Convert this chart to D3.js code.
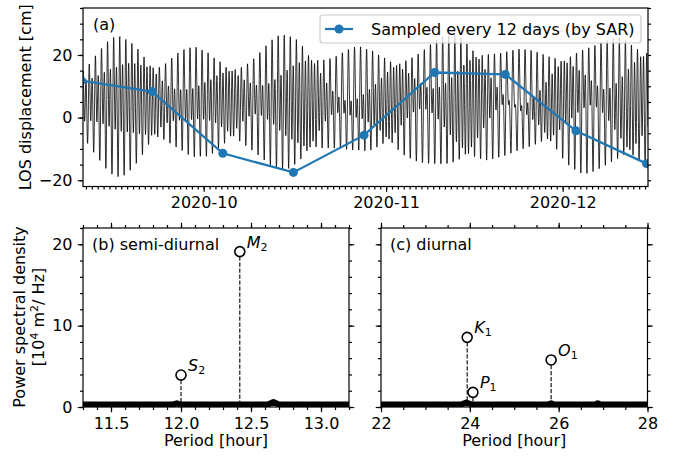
<!DOCTYPE html>
<html>
<head>
<meta charset="utf-8">
<script src="https://cdn.jsdelivr.net/npm/d3@7"></script>
<style>
  body { margin: 0; background: #fff; }
  svg { display: block; font-family: "DejaVu Sans", sans-serif; }
</style>
</head>
<body>
<svg id="chart" width="681" height="460"></svg>
<script>
'use strict';

// SAR samples, one every 12 days (UTC acquisition time)
const sarDates = ['2020-09-10T06', '2020-09-22T06', '2020-10-04T06', '2020-10-16T06', '2020-10-28T06',
  '2020-11-09T06', '2020-11-21T06', '2020-12-03T06', '2020-12-15T06'];
const sarValues = [11.8, 8.3, -11.4, -17.5, -5.6, 14.4, 13.8, -4.2, -14.7];

// tidal constituents used for the continuous LOS curve (cm, hours, degrees at 2020-09-10 00:00 UTC)
const tideNames = ['M2', 'S2', 'N2', 'K1', 'O1', 'P1'];
const tidePeriods = [12.4206, 12.0, 12.6583, 23.9345, 25.8193, 24.0659];
const tideAmps = [11.2, 2.5, 2.6, 6.0, 4.6, 1.8];
const tidePhases = [0, 190.1, 103.8, 50, 199.6, 251.1];
const tideOffset = 4.8;

const monthTicks = ['2020-10-01', '2020-11-01', '2020-12-01'];

// spectral peaks [10^4 m^2/Hz]
const semiNames = ['S', 'M'];
const semiPeriods = [12.00, 12.42];
const semiPsd = [3.93, 19.1];
const diurNames = ['K', 'P', 'O'];
const diurPeriods = [23.94, 24.07, 25.83];
const diurPsd = [8.56, 1.8, 5.78];

// low level part of each spectrum
const semiFloorPeriods = [11.3, 11.94, 11.97, 12.0, 12.62, 12.66, 12.70, 13.2];
const semiFloorPsd = [0.3, 0.3, 0.45, 0.3, 0.3, 0.6, 0.3, 0.3];
const diurFloorPeriods = [22, 23.8, 23.92, 24.05, 25.75, 25.83, 25.9, 26.82, 26.88, 26.94, 28];
const diurFloorPsd = [0.3, 0.3, 0.55, 0.3, 0.3, 0.45, 0.3, 0.3, 0.45, 0.3, 0.3];

const blue = '#1f77b4';
const fontSize = 16;

const svg = d3.select('#chart');

const styleAxis = (g) => {
  g.attr('font-size', fontSize).attr('font-family', '"DejaVu Sans", sans-serif');
  g.select('.domain').remove();
  g.selectAll('.tick line').attr('stroke', '#000').attr('stroke-width', 1.2);
  g.selectAll('.tick text').attr('fill', '#000');
};

const addClip = (id, x0, y0, x1, y1) => {
  svg.append('clipPath').attr('id', id)
    .append('rect').attr('x', x0).attr('y', y0).attr('width', x1 - x0).attr('height', y1 - y0);
};

const frame = (x0, y0, x1, y1) => {
  svg.append('rect')
    .attr('x', x0).attr('y', y0).attr('width', x1 - x0).attr('height', y1 - y0)
    .attr('fill', 'none').attr('stroke', '#000').attr('stroke-width', 1.2);
};

// ---------- (a) time series ----------
const A = { left: 83, right: 648, top: 8, bottom: 186.5 };
const x = d3.scaleUtc([new Date(Date.UTC(2020, 8, 10, 12)), new Date(Date.UTC(2020, 11, 15, 12))], [A.left, A.right]);
const y = d3.scaleLinear([-22, 35], [A.bottom, A.top]);

const tideStart = Date.UTC(2020, 8, 10);
const tide = d3.range(0, 97 * 24 + 1).map((h) => ({
  date: new Date(tideStart + h * 3600e3),
  value: tideOffset + d3.sum(tidePeriods, (p, i) => tideAmps[i] * Math.cos((360 * h / p + tidePhases[i]) * Math.PI / 180)),
}));

const sar = sarDates.map((d, i) => ({ date: new Date(d + ':00:00Z'), value: sarValues[i] }));

addClip('clipA', A.left, A.top, A.right, A.bottom);

svg.append('path')
  .datum(tide)
  .attr('clip-path', 'url(#clipA)')
  .attr('fill', 'none')
  .attr('stroke', '#000')
  .attr('stroke-width', 0.8)
  .attr('d', d3.line((d) => x(d.date), (d) => y(d.value)));

const gSar = svg.append('g').attr('clip-path', 'url(#clipA)');
gSar.append('path')
  .datum(sar)
  .attr('fill', 'none')
  .attr('stroke', blue)
  .attr('stroke-width', 2.25)
  .attr('d', d3.line((d) => x(d.date), (d) => y(d.value)));
gSar.selectAll('circle')
  .data(sar)
  .join('circle')
  .attr('cx', (d) => x(d.date))
  .attr('cy', (d) => y(d.value))
  .attr('r', 4.5)
  .attr('fill', blue);

svg.append('g')
  .attr('transform', `translate(0,${A.bottom})`)
  .call(d3.axisBottom(x).tickValues(d3.utcDay.range(...x.domain())).tickSize(3).tickFormat(''))
  .call(styleAxis);
svg.append('g')
  .attr('transform', `translate(0,${A.bottom})`)
  .call(d3.axisBottom(x).tickValues(monthTicks.map((d) => new Date(d + 'T00:00:00Z')))
    .tickSize(5.25).tickPadding(5.25).tickFormat(d3.utcFormat('%Y-%m')))
  .call(styleAxis);

svg.append('g')
  .attr('transform', `translate(${A.left},0)`)
  .call(d3.axisLeft(y).tickValues(d3.range(-20, 36, 5)).tickSize(3).tickFormat(''))
  .call(styleAxis);
svg.append('g')
  .attr('transform', `translate(${A.left},0)`)
  .call(d3.axisLeft(y).tickValues([-20, 0, 20]).tickSize(5.25).tickPadding(5.25))
  .call(styleAxis);
svg.append('g')
  .attr('transform', `translate(${A.right},0)`)
  .call(d3.axisRight(y).tickValues(d3.range(-20, 36, 5)).tickSize(3).tickFormat(''))
  .call(styleAxis);

frame(A.left, A.top, A.right, A.bottom);

svg.append('text')
  .attr('x', 93).attr('y', 30)
  .attr('font-size', fontSize)
  .text('(a)');

svg.append('text')
  .attr('transform', `translate(31,${(A.top + A.bottom) / 2}) rotate(-90)`)
  .attr('text-anchor', 'middle')
  .attr('font-size', fontSize)
  .text('LOS displacement [cm]');

// legend
const legend = svg.append('g');
legend.append('rect')
  .attr('x', 320).attr('y', 15).attr('width', 321).attr('height', 28).attr('rx', 3)
  .attr('fill', '#fff').attr('fill-opacity', 0.8)
  .attr('stroke', '#cccccc').attr('stroke-width', 1.2);
legend.append('line')
  .attr('x1', 325).attr('x2', 353).attr('y1', 29).attr('y2', 29)
  .attr('stroke', blue).attr('stroke-width', 2.25);
legend.append('circle').attr('cx', 339).attr('cy', 29).attr('r', 4.5).attr('fill', blue);
legend.append('text')
  .attr('x', 371).attr('y', 35)
  .attr('font-size', fontSize)
  .text('Sampled every 12 days (by SAR)');

// ---------- (b) and (c) spectra ----------
const psdY = d3.scaleLinear([0, 22], [407, 228]);

const drawSpectrum = (id, left, right, domain, major, minor, names, periods, psd, floorP, floorV, label, showY) => {
  const sx = d3.scaleLinear(domain, [left, right]);
  addClip(id, left, psdY.range()[1], right, psdY.range()[0]);

  svg.append('path')
    .datum(floorP.map((p, i) => [p, floorV[i]]))
    .attr('clip-path', `url(#${id})`)
    .attr('fill', 'none')
    .attr('stroke', '#000')
    .attr('stroke-width', 6)
    .attr('stroke-linejoin', 'round')
    .attr('d', d3.line((d) => sx(d[0]), (d) => psdY(d[1])));

  const peaks = svg.append('g').selectAll('g')
    .data(periods.map((p, i) => ({ name: names[i], period: p, psd: psd[i] })))
    .join('g');
  peaks.append('line')
    .attr('x1', (d) => sx(d.period)).attr('x2', (d) => sx(d.period))
    .attr('y1', (d) => psdY(d.psd) + 5).attr('y2', psdY(0))
    .attr('stroke', '#000').attr('stroke-width', 1.1)
    .attr('stroke-dasharray', '4.2,1.8');
  peaks.append('circle')
    .attr('cx', (d) => sx(d.period)).attr('cy', (d) => psdY(d.psd))
    .attr('r', 5).attr('fill', 'none')
    .attr('stroke', '#000').attr('stroke-width', 1.6);
  const lbl = peaks.append('text')
    .attr('x', (d) => sx(d.period) + 7)
    .attr('y', (d) => psdY(d.psd) - 4)
    .attr('font-size', fontSize);
  lbl.append('tspan').attr('font-style', 'italic').text((d) => d.name);
  lbl.append('tspan').attr('font-size', 11).attr('dy', 3).text((d) => (d.name === 'S' || d.name === 'M' ? '2' : '1'));

  const b = psdY.range()[0];
  const t = psdY.range()[1];
  svg.append('g').attr('transform', `translate(0,${b})`)
    .call(d3.axisBottom(sx).tickValues(minor).tickSize(3).tickFormat(''))
    .call(styleAxis);
  svg.append('g').attr('transform', `translate(0,${b})`)
    .call(d3.axisBottom(sx).tickValues(major).tickSize(5.25).tickPadding(5.25)
      .tickFormat(domain[1] < 20 ? d3.format('.1f') : d3.format('d')))
    .call(styleAxis);
  svg.append('g').attr('transform', `translate(0,${t})`)
    .call(d3.axisTop(sx).tickValues(minor).tickSize(3).tickFormat(''))
    .call(styleAxis);
  svg.append('g').attr('transform', `translate(0,${t})`)
    .call(d3.axisTop(sx).tickValues(major).tickSize(5.25).tickFormat(''))
    .call(styleAxis);

  svg.append('g').attr('transform', `translate(${left},0)`)
    .call(d3.axisLeft(psdY).tickValues(d3.range(0, 23, 2)).tickSize(3).tickFormat(''))
    .call(styleAxis);
  svg.append('g').attr('transform', `translate(${left},0)`)
    .call(d3.axisLeft(psdY).tickValues([0, 10, 20]).tickSize(5.25).tickPadding(5.25)
      .tickFormat(showY ? d3.format('d') : ''))
    .call(styleAxis);
  svg.append('g').attr('transform', `translate(${right},0)`)
    .call(d3.axisRight(psdY).tickValues(d3.range(0, 23, 2)).tickSize(3).tickFormat(''))
    .call(styleAxis);
  svg.append('g').attr('transform', `translate(${right},0)`)
    .call(d3.axisRight(psdY).tickValues([0, 10, 20]).tickSize(5.25).tickFormat(''))
    .call(styleAxis);

  frame(left, t, right, b);

  svg.append('text')
    .attr('x', left + 9).attr('y', 250)
    .attr('font-size', fontSize)
    .text(label);
  svg.append('text')
    .attr('x', (left + right) / 2).attr('y', 446)
    .attr('text-anchor', 'middle')
    .attr('font-size', fontSize)
    .text('Period [hour]');
};

drawSpectrum('clipB', 83, 349, [11.3, 13.2], [11.5, 12.0, 12.5, 13.0], d3.range(11.3, 13.21, 0.1).map((d) => +d.toFixed(1)),
  semiNames, semiPeriods, semiPsd, semiFloorPeriods, semiFloorPsd, '(b) semi-diurnal', true);
drawSpectrum('clipC', 381, 647.5, [22, 28], [22, 24, 26, 28], d3.range(22, 28.01, 0.5),
  diurNames, diurPeriods, diurPsd, diurFloorPeriods, diurFloorPsd, '(c) diurnal', false);

const yl = svg.append('text')
  .attr('transform', 'translate(0,317) rotate(-90)')
  .attr('text-anchor', 'middle')
  .attr('font-size', fontSize);
yl.append('tspan').attr('x', 0).attr('y', 25).text('Power spectral density');
const yl2 = yl.append('tspan').attr('x', 0).attr('y', 44);
yl2.append('tspan').text('[10');
yl2.append('tspan').attr('font-size', 11).attr('dy', -6).text('4');
yl2.append('tspan').attr('dy', 6).text(' m');
yl2.append('tspan').attr('font-size', 11).attr('dy', -6).text('2');
yl2.append('tspan').attr('dy', 6).text('/ Hz]');
</script>
</body>
</html>
